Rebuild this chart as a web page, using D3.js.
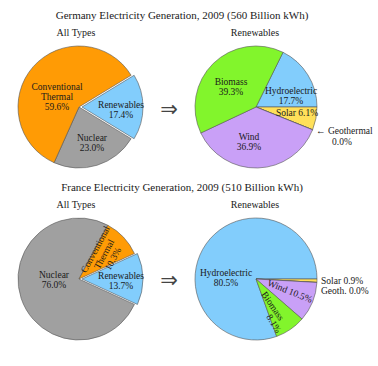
<!DOCTYPE html>
<html>
<head>
<meta charset="utf-8">
<script src="https://cdn.jsdelivr.net/npm/d3@7"></script>
<style>
  body { margin: 0; background: #fff; }
  svg text { font-family: "Liberation Serif", "DejaVu Serif", serif; fill: #1a1a1a; }
</style>
</head>
<body>
<div id="chart"></div>
<script>
// ---- data ----
var titles = ["Germany Electricity Generation, 2009 (560 Billion kWh)",
              "France Electricity Generation, 2009 (510 Billion kWh)"];
var typeNames = ["Renewables", "Nuclear", "Conventional Thermal"];
var germanyTypes = [17.4, 23.0, 59.6];
var franceTypes = [13.7, 76.0, 10.3];
var renewNames = ["Hydroelectric", "Solar", "Geothermal", "Wind", "Biomass"];
var germanyRenew = [17.7, 6.1, 0.0, 36.9, 39.3];
var franceRenew = [80.5, 0.9, 0.0, 10.5, 8.1];

var typeColors = {"Renewables": "#82cdfc", "Nuclear": "#a0a0a0", "Conventional Thermal": "#ff9b05"};
var renewColors = {"Hydroelectric": "#82cdfc", "Solar": "#ffe05a", "Geothermal": "none",
                   "Wind": "#c9a0f7", "Biomass": "#82f52c"};

var width = 378, height = 366;
var radius = 61;
var svg = d3.select("#chart").append("svg")
    .attr("width", width).attr("height", height);

var arc = d3.arc().innerRadius(0).outerRadius(radius);

// one pie, slices clockwise from startAngle; first slice can be pulled out
function drawPie(cx, cy, names, values, colors, startAngle, explode) {
    var pie = d3.pie().sort(null).value(function(d) { return d.v; })
        .startAngle(startAngle).endAngle(startAngle + 2 * Math.PI);
    var data = names.map(function(n, i) { return {name: n, v: values[i]}; });
    var g = svg.append("g").attr("transform", "translate(" + cx + "," + cy + ")");
    g.selectAll("path").data(pie(data)).enter().append("path")
        .attr("d", arc)
        .attr("fill", function(d) { return colors[d.data.name]; })
        .attr("stroke", "#555")
        .attr("stroke-width", 0.6)
        .attr("transform", function(d) {
            if (explode && d.index == 0) {
                var a = (d.startAngle + d.endAngle) / 2;
                return "translate(" + (3 * Math.sin(a)) + "," + (-3 * Math.cos(a)) + ")";
            }
            return null;
        });
    return g;
}

// multi-line label centred on (x, y)
function label(g, x, y, lines, rot) {
    var t = g.append("text")
        .attr("text-anchor", "middle")
        .attr("font-size", 9.5)
        .attr("transform", "translate(" + x + "," + y + ")" + (rot ? "rotate(" + rot + ")" : ""));
    var lh = 10;
    lines.forEach(function(l, i) {
        t.append("tspan").attr("x", 0)
            .attr("y", (i - (lines.length - 1) / 2) * lh + 3.3).text(l);
    });
    return t;
}

function pct(v) { return v.toFixed(1) + "%"; }

function heading(y, title) {
    svg.append("text").attr("x", 182).attr("y", y).attr("text-anchor", "middle")
        .attr("font-size", 11).text(title);
    svg.append("text").attr("x", 76).attr("y", y + 17).attr("text-anchor", "middle")
        .attr("font-size", 10).text("All Types");
    svg.append("text").attr("x", 255).attr("y", y + 17).attr("text-anchor", "middle")
        .attr("font-size", 10).text("Renewables");
}

function arrow(y) {
    svg.append("text").attr("x", 169).attr("y", y).attr("text-anchor", "middle")
        .attr("dominant-baseline", "central")
        .style("font-family", "DejaVu Sans").style("fill", "#444")
        .attr("font-size", 21).text("\u21d2");
}

// ---- Germany ----
heading(19, titles[0]);

var gA = drawPie(79, 107, typeNames, germanyTypes, typeColors,
                 Math.PI / 2 - germanyTypes[0] / 100 * Math.PI, true);
label(gA, -22, -10, ["Conventional", "Thermal", pct(germanyTypes[2])]);
label(gA, 42, 3, ["Renewables", pct(germanyTypes[0])]);
label(gA, 13, 36, ["Nuclear", pct(germanyTypes[1])]);

arrow(109);

var gB = drawPie(256, 107, renewNames, germanyRenew, renewColors,
                 Math.PI / 2 - germanyRenew[0] / 100 * 2 * Math.PI, false);
label(gB, -25, -20, ["Biomass", pct(germanyRenew[4])]);
label(gB, 35, -11, ["Hydroelectric", pct(germanyRenew[0])]);
label(gB, 41, 6, ["Solar " + pct(germanyRenew[1])]);
label(gB, -7, 35, ["Wind", pct(germanyRenew[3])]);
svg.append("text").attr("x", 316).attr("y", 134).attr("font-size", 9.5)
    .text("\u2190 Geothermal");
svg.append("text").attr("x", 342).attr("y", 145).attr("text-anchor", "middle")
    .attr("font-size", 9.5).text(pct(germanyRenew[2]));

// ---- France ----
heading(191, titles[1]);

var gC = drawPie(79, 279, typeNames, franceTypes, typeColors,
                 Math.PI / 2 - franceTypes[0] / 100 * Math.PI, true);
label(gC, -25, 1, ["Nuclear", pct(franceTypes[1])]);
label(gC, 42, 2, ["Renewables", pct(franceTypes[0])]);
label(gC, 25, -25, ["Conventional", "Thermal", pct(franceTypes[2])], -62);

arrow(280);

var gD = drawPie(256, 279, renewNames, franceRenew, renewColors,
                 Math.PI / 2 - franceRenew[0] / 100 * 2 * Math.PI, false);
label(gD, -30, -1, ["Hydroelectric", pct(franceRenew[0])]);
label(gD, 34, 12, ["Wind  " + pct(franceRenew[3])], 22);
label(gD, 17, 27, ["Biomass"], 56);
label(gD, 18, 44.5, [pct(franceRenew[4])], 58);
svg.append("text").attr("x", 321).attr("y", 284).attr("font-size", 9.5)
    .text("Solar  " + pct(franceRenew[1]));
svg.append("text").attr("x", 321).attr("y", 294).attr("font-size", 9.5)
    .text("Geoth.  " + pct(franceRenew[2]));
</script>
</body>
</html>
